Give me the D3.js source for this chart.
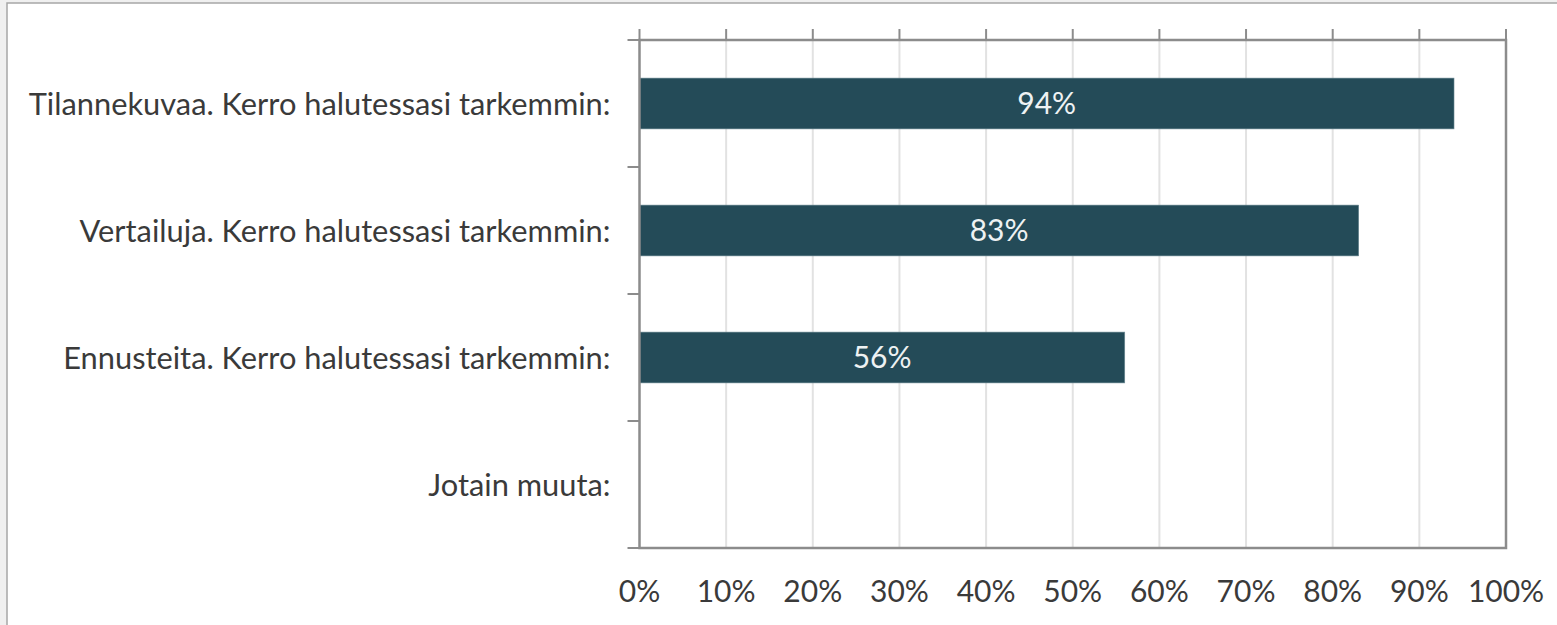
<!DOCTYPE html>
<html>
<head>
<meta charset="utf-8">
<script src="https://cdn.jsdelivr.net/npm/d3@7"></script>
<style>
  html, body { margin: 0; padding: 0; background: #f0f0f0; overflow: hidden; }
  svg { display: block; }
</style>
</head>
<body>
<svg width="1557" height="625"></svg>
<script>
const categories = [
  "Tilannekuvaa. Kerro halutessasi tarkemmin:",
  "Vertailuja. Kerro halutessasi tarkemmin:",
  "Ennusteita. Kerro halutessasi tarkemmin:",
  "Jotain muuta:"
];
const values = [94, 83, 56, null];
const tickValues = [0, 10, 20, 30, 40, 50, 60, 70, 80, 90, 100];

const svg = d3.select("svg");
const font = "Lato, 'Open Sans', sans-serif";

// chart area (white panel with a grey frame)
svg.append("rect")
  .attr("x", 7).attr("y", 3)
  .attr("width", 1600).attr("height", 700)
  .attr("fill", "#fff")
  .attr("stroke", "#a6a6a6")
  .attr("stroke-width", 1.5);

const margin = {top: 40, left: 639.5, right: 51, bottom: 77};
const width = 1557 - margin.left - margin.right;
const height = 625 - margin.top - margin.bottom;

const x = d3.scaleLinear().domain([0, 100]).range([0, width]);
const y = d3.scaleBand().domain(categories).range([0, height]).paddingInner(0.6).paddingOuter(0.3);
const yEdges = d3.range(categories.length + 1).map(i => i * height / categories.length);

const g = svg.append("g").attr("transform", "translate(" + margin.left + "," + margin.top + ")");

// gridlines
g.append("g")
  .selectAll("line")
  .data(tickValues.slice(1, -1))
  .join("line")
  .attr("x1", d => x(d)).attr("x2", d => x(d))
  .attr("y1", 0).attr("y2", height)
  .attr("stroke", "#e2e2e2")
  .attr("stroke-width", 2);

// bars
const rows = categories.map((c, i) => ({cat: c, v: values[i]})).filter(d => d.v != null);

g.append("g")
  .selectAll("rect")
  .data(rows)
  .join("rect")
  .attr("x", 0)
  .attr("y", d => y(d.cat))
  .attr("width", d => x(d.v))
  .attr("height", y.bandwidth())
  .attr("fill", "#244b58")
  .attr("stroke", "#6d8b95")
  .attr("stroke-width", 0.6);

g.append("g")
  .selectAll("text")
  .data(rows)
  .join("text")
  .attr("x", d => x(d.v) / 2)
  .attr("y", d => y(d.cat) + y.bandwidth() / 2)
  .attr("dy", "0.36em")
  .attr("text-anchor", "middle")
  .attr("fill", "#eef2f3")
  .attr("font-family", font)
  .attr("font-size", 30)
  .text(d => d.v + "%");

// top ticks of the value axis
g.append("g")
  .selectAll("line")
  .data(tickValues)
  .join("line")
  .attr("x1", d => x(d)).attr("x2", d => x(d))
  .attr("y1", -11).attr("y2", 0)
  .attr("stroke", "#8c8c8c")
  .attr("stroke-width", 2);

// left ticks of the category axis
g.append("g")
  .selectAll("line")
  .data(yEdges)
  .join("line")
  .attr("x1", -12).attr("x2", 0)
  .attr("y1", d => d).attr("y2", d => d)
  .attr("stroke", "#8c8c8c")
  .attr("stroke-width", 2);

// plot frame
g.append("rect")
  .attr("width", width).attr("height", height)
  .attr("fill", "none")
  .attr("stroke", "#8c8c8c")
  .attr("stroke-width", 2.5);

// value axis labels at bottom
g.append("g")
  .selectAll("text")
  .data(tickValues)
  .join("text")
  .attr("x", d => x(d))
  .attr("y", height + 54)
  .attr("text-anchor", "middle")
  .attr("fill", "#3a3a3a")
  .attr("font-family", font)
  .attr("font-size", 30)
  .text(d => d + "%");

// category labels
g.append("g")
  .selectAll("text")
  .data(categories)
  .join("text")
  .attr("x", -29)
  .attr("y", d => y(d) + y.bandwidth() / 2)
  .attr("dy", "0.36em")
  .attr("text-anchor", "end")
  .attr("fill", "#3a3a3a")
  .attr("font-family", font)
  .attr("font-size", 30.8)
  .text(d => d);
</script>
</body>
</html>
